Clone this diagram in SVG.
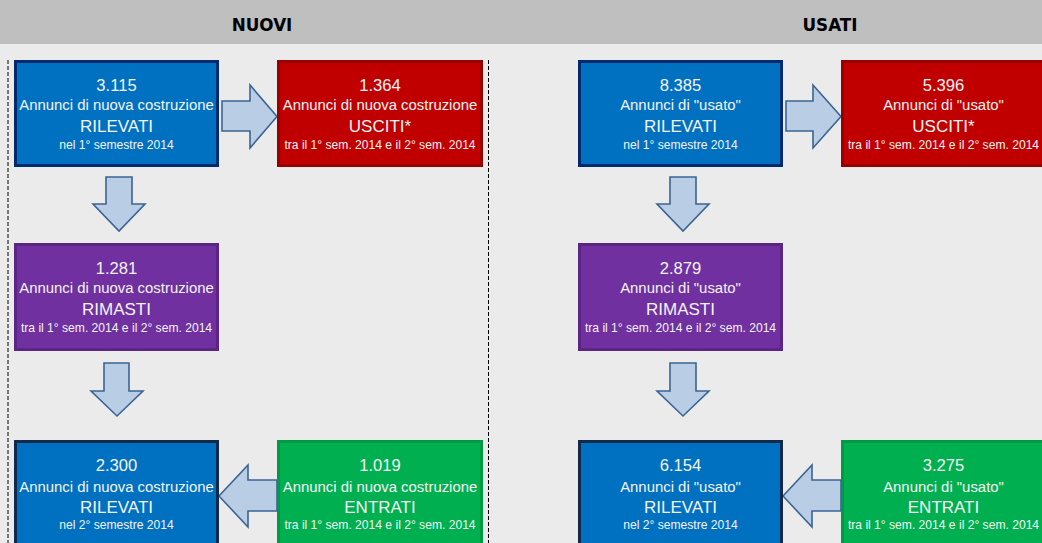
<svg xmlns="http://www.w3.org/2000/svg" width="1042" height="543" viewBox="0 0 1042 543">
<style>
.hdr{font-family:"DejaVu Sans",Verdana,sans-serif;font-weight:bold;font-size:16.8px;fill:#000;text-anchor:middle}
.t{font-family:"Liberation Sans",Arial,sans-serif;fill:#F4F4F4;text-anchor:middle}
.n{font-size:16.6px}
.d{font-size:14.9px}
.k{font-size:17px}
.s{font-size:12.1px}
.blue{fill:#0070C0;stroke:#002A6E;stroke-width:3}
.blue2{fill:#0070C0;stroke:#13294B;stroke-width:3}
.red{fill:#C00000;stroke:#960000;stroke-width:3}
.purple{fill:#7030A0;stroke:#5A2585;stroke-width:3}
.green{fill:#00B050;stroke:#009A44;stroke-width:3}
.arr{fill:#B9CDE5;stroke:#3A6494;stroke-width:1.6;stroke-linejoin:miter}
.dash{stroke:#000;stroke-width:1;stroke-dasharray:4 2;fill:none}
</style>
<rect x="0" y="0" width="1042" height="543" fill="#EBEBEB"/>
<rect x="0" y="0" width="1042" height="44" fill="#BFBFBF"/>
<text class="hdr" x="262" y="30.5">NUOVI</text>
<text class="hdr" x="830" y="30.5">USATI</text>
<line class="dash" x1="8" y1="60" x2="8" y2="543"/>
<line class="dash" x1="488.5" y1="60" x2="488.5" y2="543"/>

<g id="connectors">
<path class="arr" d="M222,101 H250 V85 L277,116.5 L250,148 V131 H222 Z"/>
<path class="arr" d="M106,177 H132 V204 H145 L119,231 L93,204 H106 Z"/>
<path class="arr" d="M104,363 H129 V391 H143 L117,416 L91,391 H104 Z"/>
<path class="arr" d="M277,480 H248 V465 L219,496 L248,527 V511 H277 Z"/>
<path class="arr" d="M786,101 H813 V85 L841,116.5 L813,148 V131 H786 Z"/>
<path class="arr" d="M670,177 H696 V204 H709 L683,231 L657,204 H670 Z"/>
<path class="arr" d="M670,363 H696 V391 H709 L683,416 L657,391 H670 Z"/>
<path class="arr" d="M841,480 H812 V465 L783,496 L812,527 V511 H841 Z"/>
</g>

<g id="nuovi-rilevati-1">
<rect class="blue" x="15.5" y="61.5" width="202" height="104"/>
<text class="t n" x="116.5" y="91">3.115</text>
<text class="t d" x="116.5" y="110">Annunci di nuova costruzione</text>
<text class="t k" x="116.5" y="132">RILEVATI</text>
<text class="t s" x="116.5" y="149">nel 1° semestre 2014</text>
</g>
<g id="nuovi-usciti">
<rect class="red" x="278.5" y="61.5" width="203" height="104"/>
<text class="t n" x="380" y="91">1.364</text>
<text class="t d" x="380" y="110">Annunci di nuova costruzione</text>
<text class="t k" x="380" y="132">USCITI*</text>
<text class="t s" x="380" y="149">tra il 1° sem. 2014 e il 2° sem. 2014</text>
</g>
<g id="nuovi-rimasti">
<rect class="purple" x="15.5" y="244.5" width="202" height="105"/>
<text class="t n" x="116.5" y="274">1.281</text>
<text class="t d" x="116.5" y="293">Annunci di nuova costruzione</text>
<text class="t k" x="116.5" y="315">RIMASTI</text>
<text class="t s" x="116.5" y="332">tra il 1° sem. 2014 e il 2° sem. 2014</text>
</g>
<g id="nuovi-rilevati-2">
<rect class="blue2" x="15.5" y="441.5" width="202" height="120"/>
<text class="t n" x="116.5" y="471">2.300</text>
<text class="t d" x="116.5" y="492">Annunci di nuova costruzione</text>
<text class="t k" x="116.5" y="513">RILEVATI</text>
<text class="t s" x="116.5" y="529">nel 2° semestre 2014</text>
</g>
<g id="nuovi-entrati">
<rect class="green" x="278.5" y="441.5" width="203" height="120"/>
<text class="t n" x="380" y="471">1.019</text>
<text class="t d" x="380" y="492">Annunci di nuova costruzione</text>
<text class="t k" x="380" y="513">ENTRATI</text>
<text class="t s" x="380" y="529">tra il 1° sem. 2014 e il 2° sem. 2014</text>
</g>

<g id="usati-rilevati-1">
<rect class="blue" x="579.5" y="61.5" width="202" height="104"/>
<text class="t n" x="680.5" y="91">8.385</text>
<text class="t d" x="680.5" y="110">Annunci di "usato"</text>
<text class="t k" x="680.5" y="132">RILEVATI</text>
<text class="t s" x="680.5" y="149">nel 1° semestre 2014</text>
</g>
<g id="usati-usciti">
<rect class="red" x="842.5" y="61.5" width="203" height="104"/>
<text class="t n" x="943.5" y="91">5.396</text>
<text class="t d" x="943.5" y="110">Annunci di "usato"</text>
<text class="t k" x="943.5" y="132">USCITI*</text>
<text class="t s" x="943.5" y="149">tra il 1° sem. 2014 e il 2° sem. 2014</text>
</g>
<g id="usati-rimasti">
<rect class="purple" x="579.5" y="244.5" width="202" height="105"/>
<text class="t n" x="680.5" y="274">2.879</text>
<text class="t d" x="680.5" y="293">Annunci di "usato"</text>
<text class="t k" x="680.5" y="315">RIMASTI</text>
<text class="t s" x="680.5" y="332">tra il 1° sem. 2014 e il 2° sem. 2014</text>
</g>
<g id="usati-rilevati-2">
<rect class="blue2" x="579.5" y="441.5" width="202" height="120"/>
<text class="t n" x="680.5" y="471">6.154</text>
<text class="t d" x="680.5" y="492">Annunci di "usato"</text>
<text class="t k" x="680.5" y="513">RILEVATI</text>
<text class="t s" x="680.5" y="529">nel 2° semestre 2014</text>
</g>
<g id="usati-entrati">
<rect class="green" x="842.5" y="441.5" width="203" height="120"/>
<text class="t n" x="943.5" y="471">3.275</text>
<text class="t d" x="943.5" y="492">Annunci di "usato"</text>
<text class="t k" x="943.5" y="513">ENTRATI</text>
<text class="t s" x="943.5" y="529">tra il 1° sem. 2014 e il 2° sem. 2014</text>
</g>
</svg>
